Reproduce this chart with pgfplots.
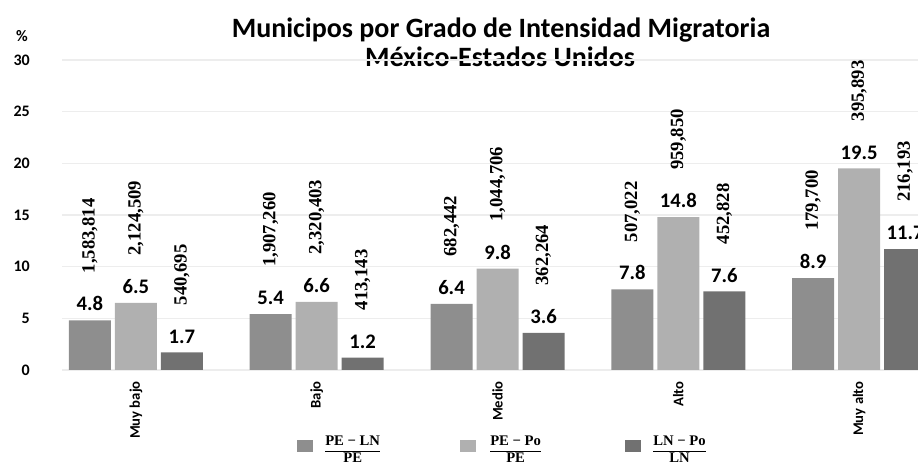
\documentclass[border=0pt]{standalone}
\usepackage{graphicx}
\usepackage{fontspec}
\setmainfont{Carlito}
\newfontfamily\numfont{Liberation Serif}
\usepackage{pgfplots}
\usepackage{pgfplotstable}
\pgfplotsset{compat=1.18}

\definecolor{barA}{HTML}{8E8E8E}
\definecolor{barB}{HTML}{B0B0B0}
\definecolor{barC}{HTML}{717171}

\protected\def\thsep{,}

% x = grado, y = %, lab = municipios
\pgfplotstableread{
x y lab
0 4.8 1583814
1 5.4 1907260
2 6.4 682442
3 7.8 507022
4 8.9 179700
}\serA
\pgfplotstableread{
x y lab
0 6.5 2124509
1 6.6 2320403
2 9.8 1044706
3 14.8 959850
4 19.5 395893
}\serB
\pgfplotstableread{
x y lab
0 1.7 540695
1 1.2 413143
2 3.6 362264
3 7.6 452828
4 11.7 216193
}\serC

\pgfplotsset{
  biglabels/.style={draw=none, fill=none, point meta=explicit,
    nodes near coords={\pgfmathprintnumber[fixed,precision=0,1000 sep={\thsep}]{\pgfplotspointmeta}},
    every node near coord/.append style={rotate=90, anchor=west,
      inner xsep=28.5pt, inner ysep=0pt, text=black,
      font=\fontsize{14}{16}\numfont\bfseries}},
}

\begin{document}
\begin{tikzpicture}
\useasboundingbox (0pt,0pt) rectangle (688.5pt,349.5pt);
\clip (0pt,0pt) rectangle (688.5pt,349.5pt);
\node[font=\fontsize{21}{25}\selectfont\bfseries, anchor=base] at (375.75pt,321pt) {Municipos por Grado de Intensidad Migratoria};
\node[font=\fontsize{21}{25}\selectfont\bfseries, anchor=base] at (375pt,299.25pt) {México-Estados Unidos};
\node[font=\fontsize{12}{14}\selectfont\bfseries] at (16.5pt,322.5pt) {\%};
\begin{axis}[
    at={(46.5pt,72pt)}, anchor=south west,
    scale only axis,
    width=642pt, height=232.5pt,
    xmin=-0.409, xmax=4.326,
    ymin=0, ymax=30,
    ytick={0,5,...,30},
    xtick={0,1,2,3,4},
    xticklabels={Muy bajo,Bajo,Medio,Alto,Muy alto},
    axis line style={draw=none},
    tick style={draw=none},
    ymajorgrids,
    grid style={black!7, line width=1pt},
    /pgf/number format/assume math mode=true,
    ticklabel style={font=\fontsize{12}{14}\selectfont\bfseries},
    yticklabel style={anchor=east, inner sep=0pt, xshift=-24pt},
    xticklabel style={rotate=90, anchor=east, inner xsep=4pt, inner ysep=0pt,
        font=\fontsize{11}{13}\selectfont\bfseries},
    ybar, bar width=31.5pt,
    nodes near coords={\pgfmathprintnumber[fixed,fixed zerofill,precision=1]{\pgfplotspointmeta}},
    every node near coord/.append style={
        font=\fontsize{15.5}{18}\selectfont\bfseries,
        text=black, inner sep=0pt, anchor=south, yshift=6.75pt},
]
\addplot[fill=barA, draw=none, bar shift=-34.5pt] table[x=x, y=y] {\serA};
\addplot[fill=barB, draw=none, bar shift=0pt] table[x=x, y=y] {\serB};
\addplot[fill=barC, draw=none, bar shift=34.5pt] table[x=x, y=y] {\serC};
\addplot[biglabels, bar shift=-34.5pt] table[x=x, y=y, meta=lab] {\serA};
\addplot[biglabels, bar shift=0pt] table[x=x, y=y, meta=lab] {\serB};
\addplot[biglabels, bar shift=34.5pt] table[x=x, y=y, meta=lab] {\serC};
\end{axis}
% legend
\fill[barA] (222.75pt,10.5pt) rectangle (234.75pt,19.5pt);
\node[anchor=west, inner sep=0pt, font=\fontsize{11}{12}\numfont\bfseries] at (243.75pt,11.25pt) {\begin{tabular}{@{}c@{}}PE − LN\\\hline PE\end{tabular}};
\fill[barB] (345pt,10.5pt) rectangle (357pt,19.5pt);
\node[anchor=west, inner sep=0pt, font=\fontsize{11}{12}\numfont\bfseries] at (367.5pt,11.25pt) {\begin{tabular}{@{}c@{}}PE − Po\\\hline PE\end{tabular}};
\fill[barC] (468.75pt,10.5pt) rectangle (480.75pt,19.5pt);
\node[anchor=west, inner sep=0pt, font=\fontsize{11}{12}\numfont\bfseries] at (489.75pt,11.25pt) {\begin{tabular}{@{}c@{}}LN − Po\\\hline LN\end{tabular}};
\end{tikzpicture}
\end{document}
